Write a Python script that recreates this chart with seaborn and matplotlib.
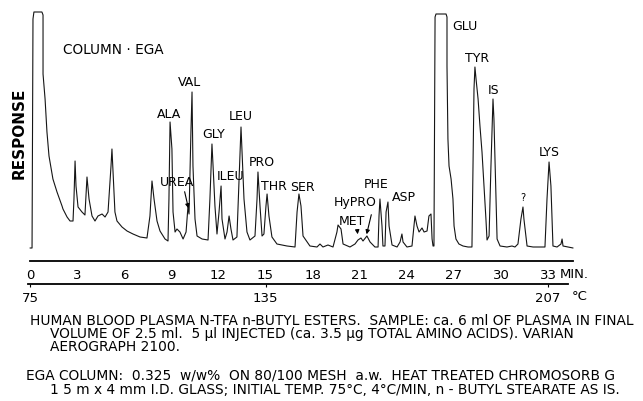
import matplotlib
matplotlib.use("Agg")
import matplotlib.pyplot as plt
import seaborn as sns
import pandas as pd

# ---- chromatogram trace (time in min, response in chart units)
time_min = [
    0.00, 0.13, 0.19, 0.25, 0.76, 0.83, 0.83, 0.96, 1.08, 1.21, 1.46, 1.72, 2.04, 2.10, 2.36, 2.55, 2.74,
    2.80, 2.87, 2.93, 3.06, 3.31, 3.50,
    3.63, 3.76, 3.95, 4.14, 4.33, 4.59, 4.78, 4.97,
    5.16, 5.22, 5.29, 5.41, 5.54, 5.86, 6.18, 6.56, 7.01, 7.45,
    7.64, 7.77, 7.90, 8.09, 8.28, 8.60, 8.79,
    8.85, 8.92, 9.04, 9.11, 9.24, 9.36, 9.55, 9.75, 9.94,
    10.06, 10.13,
    10.25, 10.32, 10.38, 10.51, 10.64, 10.96, 11.34,
    11.46, 11.59, 11.66, 11.78, 11.91,
    12.04, 12.17, 12.23, 12.42, 12.55,
    12.68, 12.80, 12.93, 13.18,
    13.31, 13.44, 13.50, 13.63, 13.82, 14.01, 14.33,
    14.46, 14.52, 14.65, 14.78, 14.90,
    15.03, 15.10, 15.22, 15.41, 15.73, 16.37, 16.88,
    17.01, 17.13, 17.26, 17.39, 17.83, 18.28,
    18.47, 18.66, 18.98, 19.30,
    19.55, 19.62, 19.81, 19.94, 20.38, 20.70, 20.89, 21.08, 21.21, 21.46, 21.66, 21.97, 22.17,
    22.23, 22.29, 22.42, 22.48, 22.61,
    22.68, 22.80, 22.87, 23.06, 23.38,
    23.57, 23.69, 23.76, 24.01, 24.33,
    24.46, 24.52, 24.65, 24.78, 24.97, 25.10, 25.29, 25.41, 25.54, 25.61, 25.67, 25.73,
    25.80, 25.86, 26.50, 26.56, 26.56, 26.62, 26.69, 26.82, 26.94, 27.01, 27.13, 27.32, 27.58, 27.90, 28.15,
    28.28, 28.34, 28.41, 28.54, 28.66, 28.79, 28.92, 29.04, 29.11, 29.24,
    29.36, 29.49, 29.55, 29.68, 29.75, 29.94, 30.38, 30.70, 30.89, 31.08,
    31.27, 31.40, 31.46, 31.66, 32.04, 32.80,
    32.93, 33.06, 33.18, 33.31, 33.57, 33.82, 33.89, 33.95, 34.27, 34.59,
]
response = [
    1, 1, 230, 237, 237, 234, 175, 150, 117, 93, 70, 57, 43, 40, 32, 28, 28,
    50, 88, 63, 42, 37, 34,
    72, 50, 33, 28, 33, 35, 32, 37,
    83, 100, 77, 37, 28, 22, 18, 15, 12, 11,
    33, 68, 50, 28, 18, 10, 8,
    50, 127, 100, 37, 17, 20, 17, 10, 17,
    42, 35,
    117, 157, 83, 30, 13, 10, 9,
    50, 105, 83, 43, 15,
    37, 63, 30, 10, 17,
    33, 20, 9, 12,
    67, 122, 100, 50, 17, 9, 13,
    50, 77, 43, 13, 15,
    43, 55, 33, 12, 5, 3, 2,
    37, 55, 43, 13, 3, 2,
    5, 2, 4, 2,
    17, 24, 20, 5, 2, 5, 9, 11, 8, 13, 7, 2, 2,
    33, 50, 23, 3, 3,
    37, 47, 23, 4, 2,
    7, 15, 7, 2, 3,
    23, 33, 23, 17, 21, 17, 18, 33, 35, 10, 3, 3,
    232, 235, 235, 232, 183, 110, 83, 70, 50, 23, 10, 5, 3, 2, 2,
    160, 182, 170, 150, 123, 97, 63, 30, 9, 13,
    83, 150, 130, 50, 10, 3, 2, 3, 2, 5,
    30, 42, 30, 3, 2, 2,
    50, 87, 63, 3, 2, 5, 10, 3, 2, 1,
]

# ---- peak names and where their labels sit (time, response)
peak_names = ["ALA", "VAL", "UREA", "GLY", "ILEU", "LEU", "PRO", "THR", "SER",
              "HyPRO", "MET", "PHE", "ASP", "GLU", "TYR", "IS", "?", "LYS"]
label_time = [8.85, 10.19, 9.36, 11.72, 12.75, 13.44, 14.78, 15.52, 17.35,
              20.70, 20.51, 22.04, 23.80, 27.71, 28.47, 29.55, 31.40, 33.06]
label_resp = [135, 168, 67, 115, 73, 133, 87, 63, 62,
              47, 28, 65, 52, 223, 192, 160, 52, 97]

time_ticks = [0, 3, 6, 9, 12, 15, 18, 21, 24, 27, 30, 33]
temp_ticks = [75, 135, 207]

caption_lines = [
    "HUMAN BLOOD PLASMA N-TFA n-BUTYL ESTERS.  SAMPLE: ca. 6 ml OF PLASMA IN FINAL",
    "VOLUME OF 2.5 ml.  5 \u00b5l INJECTED (ca. 3.5 \u00b5g TOTAL AMINO ACIDS). VARIAN",
    "AEROGRAPH 2100.",
    "EGA COLUMN:  0.325  w/w%  ON 80/100 MESH  a.w.  HEAT TREATED CHROMOSORB G",
    "1 5 m x 4 mm I.D. GLASS; INITIAL TEMP. 75\u00b0C, 4\u00b0C/MIN, n - BUTYL STEARATE AS IS.",
]

sns.set_theme(style="white")
plt.rcParams["font.family"] = ["DejaVu Sans"]
plt.rcParams["text.color"] = "black"

df = pd.DataFrame({"time_min": time_min, "response": response})

fig = plt.figure(figsize=(6.43, 4.02), dpi=100)
ax = fig.add_axes([0, 0, 1, 1])
sns.lineplot(data=df, x="time_min", y="response", estimator=None, sort=False,
             color="#151515", linewidth=0.8, ax=ax)

ax.set_xlim(-30 / 15.7, (643 - 30) / 15.7)
ax.set_ylim(250 - 402, 250)
ax.set_xlabel("")
ax.set_ylabel("")
for s in ["top", "left", "right"]:
    ax.spines[s].set_visible(False)
ax.spines["bottom"].set_position(("data", -12))
ax.spines["bottom"].set_bounds(0, 34.6)
ax.spines["bottom"].set_linewidth(1.3)
ax.spines["bottom"].set_color("black")
ax.set_yticks([])
ax.set_xticks(time_ticks)
ax.set_xticklabels([str(t) for t in time_ticks])
ax.tick_params(axis="x", direction="out", length=2, width=0.8, pad=3,
               labelsize=9.5, colors="black")

# temperature axis (4 °C/min from 75 °C)
secax = ax.secondary_xaxis((402 - 285) / 402,
                           functions=(lambda t: 75 + 4 * t, lambda T: (T - 75) / 4))
secax.set_xticks(temp_ticks)
secax.set_xticklabels([str(v) for v in temp_ticks])
secax.tick_params(axis="x", direction="out", length=2, width=0.8, pad=3,
                  labelsize=9.5, colors="black")
secax.spines["bottom"].set_linewidth(1.3)
secax.spines["bottom"].set_color("black")
try:
    secax.spines["bottom"].set_bounds(74.5, 212)
except Exception:
    pass

ax.text(33.76, -24, "MIN.", fontsize=9.5, ha="left", va="center", color="black")
ax.text(34.52, -47, "\u00b0C", fontsize=9.5, ha="left", va="center", color="black")

ax.text(2.10, 200, "COLUMN \u00b7 EGA", fontsize=9.8, ha="left", va="center", color="black")
ax.text(-0.70, 117, "RESPONSE", fontsize=11, fontweight="bold", rotation=90,
        ha="center", va="center", color="black")

for name, tx, ry in zip(peak_names, label_time, label_resp):
    fs = 7 if name == "?" else 9
    ax.text(tx, ry, name, fontsize=fs, ha="center", va="center", color="black")

arrow_kw = dict(arrowstyle="-|>", lw=0.8, color="black", mutation_scale=6)
ax.annotate("", xy=(10.13, 38), xytext=(9.81, 60), arrowprops=arrow_kw)
ax.annotate("", xy=(20.89, 12), xytext=(20.83, 21), arrowprops=arrow_kw)
ax.annotate("", xy=(21.40, 12), xytext=(21.78, 37), arrowprops=arrow_kw)

cap_pos = [(0.0, -71), (1.27, -84), (1.27, -97), (-0.25, -126), (1.27, -140)]
for line, (cx, cy) in zip(caption_lines, cap_pos):
    ax.text(cx, cy, line, fontsize=9.9, ha="left", va="center", color="black")

fig.savefig("out.png", dpi=100)
